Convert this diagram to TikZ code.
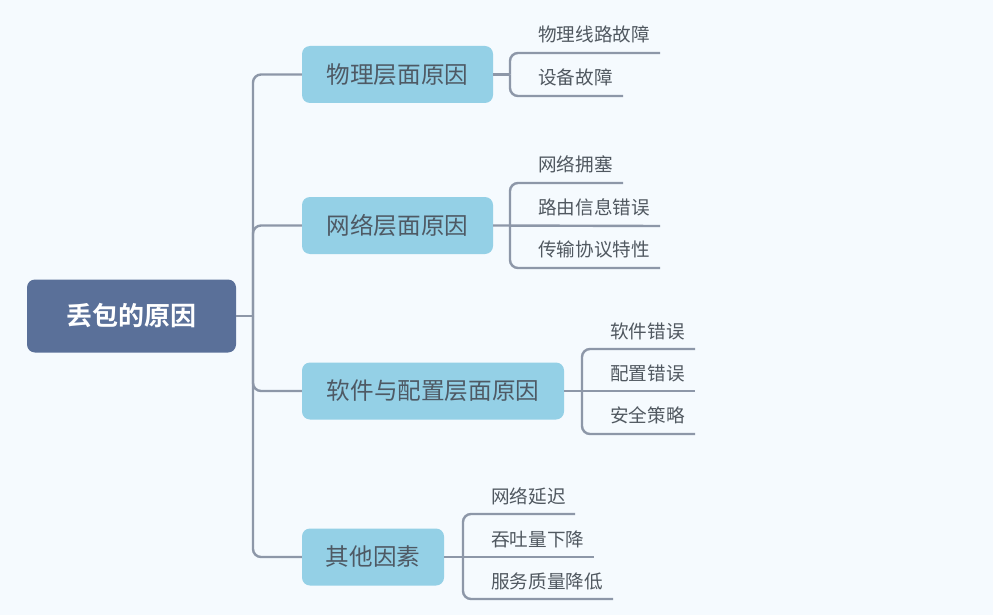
\documentclass[tikz,border=0pt]{standalone}
\usepackage{fontspec}
\setmainfont{Noto Sans CJK SC}
\newfontfamily\cjk{Noto Sans CJK SC}
\newfontfamily\cjkbold{Noto Sans CJK SC Bold}
\definecolor{bgc}{HTML}{F5FAFE}
\definecolor{rootc}{HTML}{5A7099}
\definecolor{lvc}{HTML}{94D0E6}
\definecolor{linec}{HTML}{8D97A8}
\definecolor{txtc}{HTML}{4E5964}
\definecolor{leafc}{HTML}{505860}
\begin{document}
\begin{tikzpicture}[x=1pt,y=-1pt,
  rootbox/.style={fill=rootc, rounded corners=8pt, minimum width=209pt, minimum height=73pt, inner sep=0pt, text=white, font=\cjkbold\fontsize{26}{30}\selectfont},
  lvbox/.style={fill=lvc, rounded corners=8pt, minimum height=57pt, inner sep=0pt, text=txtc, font=\cjk\fontsize{23.6}{27}\selectfont},
  leaf/.style={anchor=west, inner sep=0pt, text=leafc, font=\cjk\fontsize{18.6}{22}\selectfont},
  conn/.style={draw=linec, line width=2.4pt, rounded corners=8pt},
  stem/.style={draw=linec, line width=2.4pt}]
\fill[bgc] (0,0) rectangle (993,615);
\useasboundingbox (0,0) rectangle (993,615);

% root and level-1
\node[rootbox] (root) at (131.5,316) {丢包的原因};
\node[lvbox, minimum width=191pt] (p) at (397.5,74.5) {物理层面原因};
\node[lvbox, minimum width=191pt] (n) at (397.5,225.5) {网络层面原因};
\node[lvbox, minimum width=262pt] (s) at (433,391) {软件与配置层面原因};
\node[lvbox, minimum width=142pt] (o) at (373,557) {其他因素};

\coordinate (tr) at (253,316);
\draw[stem] (root.east) -- (tr);
\draw[conn] (tr) |- (p.west);
\draw[conn] (tr) |- (n.west);
\draw[conn] (tr) |- (s.west);
\draw[conn] (tr) |- (o.west);

% leaves: physical
\node[leaf] (p1) at (538,34) {物理线路故障};
\node[leaf] (p2) at (538,77) {设备故障};
\coordinate (pj) at (510,74.5);
\coordinate (p1e) at (660,53);
\coordinate (p2e) at (623,96);
\draw[stem] (p.east) -- (pj);
\draw[conn] (pj) |- (p1e);
\draw[conn] (pj) |- (p2e);

% leaves: network
\node[leaf] (n1) at (538,164) {网络拥塞};
\node[leaf] (n2) at (538,207) {路由信息错误};
\node[leaf] (n3) at (538,249) {传输协议特性};
\coordinate (nj) at (510,226);
\coordinate (n1e) at (623,183);
\coordinate (n2e) at (660,226);
\coordinate (n3e) at (660,268);
\draw[stem] (n.east) -- (n2e);
\draw[conn] (nj) |- (n1e);
\draw[conn] (nj) |- (n3e);

% leaves: software
\node[leaf] (s1) at (610,331) {软件错误};
\node[leaf] (s2) at (610,373) {配置错误};
\node[leaf] (s3) at (610,415) {安全策略};
\coordinate (sj) at (582,391);
\coordinate (s1e) at (695,349);
\coordinate (s2e) at (695,391);
\coordinate (s3e) at (695,434);
\draw[stem] (s.east) -- (s2e);
\draw[conn] (sj) |- (s1e);
\draw[conn] (sj) |- (s3e);

% leaves: other
\node[leaf] (o1) at (491,496) {网络延迟};
\node[leaf] (o2) at (491,539) {吞吐量下降};
\node[leaf] (o3) at (491,581) {服务质量降低};
\coordinate (oj) at (463,557);
\coordinate (o1e) at (575,514);
\coordinate (o2e) at (594,557);
\coordinate (o3e) at (613,599);
\draw[stem] (o.east) -- (o2e);
\draw[conn] (oj) |- (o1e);
\draw[conn] (oj) |- (o3e);
\end{tikzpicture}
\end{document}
